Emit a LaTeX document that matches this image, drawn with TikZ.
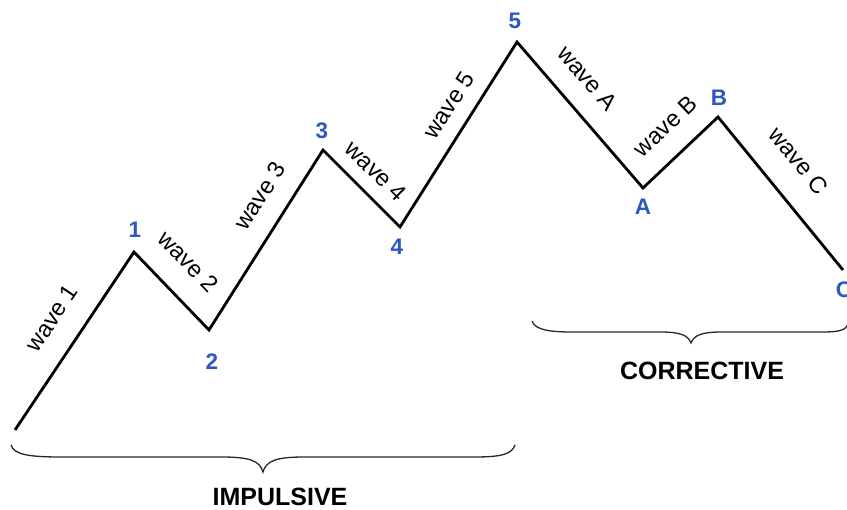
\documentclass[tikz,border=0pt]{standalone}
\usepackage{fontspec}
\setmainfont{Liberation Sans}
\definecolor{ptblue}{RGB}{44,88,196}
\definecolor{bracegray}{RGB}{40,40,40}
\tikzset{
  wave/.style={line width=2.8pt, black, miter limit=10},
  wlbl/.style={sloped, inner sep=0pt, font=\fontsize{23.5}{27}\selectfont},
  ptlbl/.style={text=ptblue, inner sep=0pt, font=\bfseries\fontsize{22.5}{26}\selectfont},
  grplbl/.style={inner sep=0pt, font=\bfseries\fontsize{25}{29}\selectfont},
  bracestyle/.style={line width=1.3pt, bracegray}
}
\begin{document}
\begin{tikzpicture}[x=1pt,y=-1pt]
\useasboundingbox (0,0) rectangle (847,510);
\fill[white] (0,0) rectangle (847,510);
% turning points
\coordinate (p0) at (15,430);
\coordinate (p1) at (134,252);
\coordinate (p2) at (209,330);
\coordinate (p3) at (323,150);
\coordinate (p4) at (400,227);
\coordinate (p5) at (517,42);
\coordinate (pA) at (643,188);
\coordinate (pB) at (718,117);
\coordinate (pC) at (843,270);
% wave path
\draw[wave] (p0)
  -- node[wlbl, pos=0.53, above=22pt] {wave 1} (p1)
  -- node[wlbl, pos=0.41, above=23pt] {wave 2} (p2)
  -- node[wlbl, pos=0.66, above=19pt] {wave 3} (p3)
  -- node[wlbl, pos=0.48, above=13pt] {wave 4} (p4)
  -- node[wlbl, pos=0.59, above=14pt] {wave 5} (p5)
  -- node[wlbl, pos=0.38, above=20pt] {wave A} (pA)
  -- node[wlbl, pos=0.57, above=20pt] {wave B} (pB)
  -- node[wlbl, pos=0.43, above=25pt] {wave C} (pC);
% point labels
\node[ptlbl] (l1) at (135,230) {1};
\node[ptlbl] (l2) at (212,362) {2};
\node[ptlbl] (l3) at (322,131) {3};
\node[ptlbl] (l4) at (397,247) {4};
\node[ptlbl] (l5) at (515,21) {5};
\node[ptlbl] (lA) at (643,207) {A};
\node[ptlbl] (lB) at (719,98) {B};
\node[ptlbl] (lC) at (844,290) {C};
% braces
\coordinate (bi1) at (11,445);
\coordinate (bit) at (263,472);
\coordinate (bi2) at (515,445);
\draw[bracestyle] (bi1) .. controls (14,455) and (30,457) .. (62,457)
  -- (222,457) .. controls (250,457) and (260,461) .. (bit)
  .. controls (266,461) and (276,457) .. (304,457)
  -- (475,457) .. controls (502,457) and (512,454) .. (bi2);
\coordinate (bc1) at (532,321);
\coordinate (bct) at (691,343);
\coordinate (bc2) at (848,324);
\draw[bracestyle] (bc1) .. controls (535,330) and (550,332) .. (572,332)
  -- (660,332) .. controls (680,332) and (688,335) .. (bct)
  .. controls (694,335) and (702,332) .. (722,332)
  -- (822,332) .. controls (840,332) and (846,330) .. (bc2);
% group labels
\node[grplbl] (imp) at (280,497) {IMPULSIVE};
\node[grplbl] (cor) at (702,371) {CORRECTIVE};
\end{tikzpicture}
\end{document}
